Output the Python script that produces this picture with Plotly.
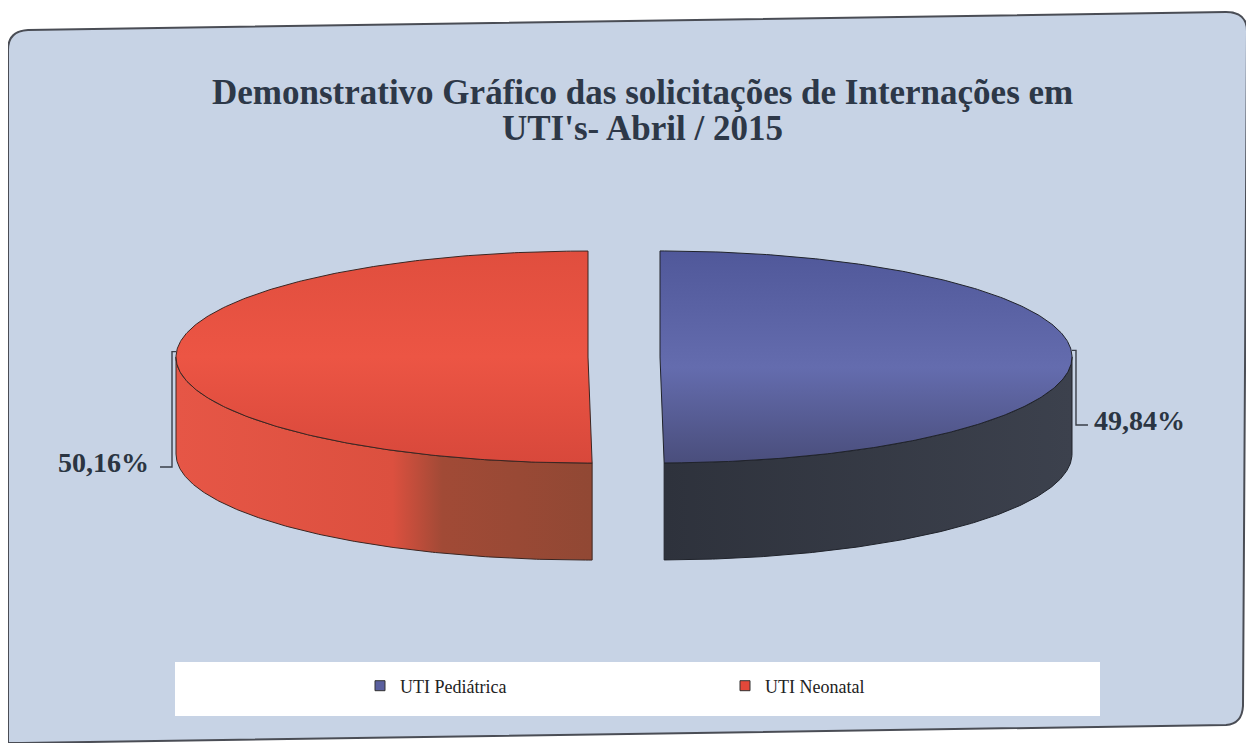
import numpy as np
import plotly.graph_objects as go

# ---------------- data ----------------
categories = ["UTI Pediátrica", "UTI Neonatal"]
values = [49.84, 50.16]
value_labels = ["49,84%", "50,16%"]
title_lines = ["Demonstrativo Gráfico das solicitações de Internações em",
               "UTI's- Abril / 2015"]

# ---------------- styles / layout constants ----------------
W, H = 1254, 743
OFF = 8                    # page body margin compensation
CX, CY = 624, 357          # pie centre (page pixel coords)
RX, RY = 412, 106          # ellipse radii of the tilted pie
DEPTH = 97                 # thickness of the 3-D pie
EXPLODE = 36               # explosion distance

top_scales = [
    [[0, "#4a4e7c"], [0.45, "#646cae"], [1, "#50589a"]],     # Pediátrica top
    [[0, "#d8483b"], [0.5, "#ec5544"], [1, "#e04e3e"]],      # Neonatal top
]
side_scales = [
    [[0, "#2e323c"], [1, "#3c414d"]],
    [[0, "#e65646"], [0.52, "#dc503f"], [0.64, "#a14a36"], [1, "#914834"]],
]
edge_colors = ["#20232b", "#3b2622"]
legend_colors = ["#5a5f9e", "#e2483a"]
label_pos = [(1092, 420, "left"), (151, 462, "right")]
title_y = [92, 128]
TEXT_COLOR = "#2b3542"
SERIF = "Liberation Serif, Times New Roman, serif"


def rim(theta_deg, ox, oy, dz=0.0):
    t = np.radians(theta_deg)
    return CX + ox + RX * np.sin(t), CY + oy - RY * np.cos(t) + dz


def paper_x(p):
    return (p - OFF) / W


def paper_y(p):
    return 1 - (p - OFF) / H


fig = go.Figure()

total = float(sum(values))
start = 0.0
for i, (cat, v) in enumerate(zip(categories, values)):
    sweep = v / total * 360.0
    end = start + sweep
    mid = (start + end) / 2.0
    ox = EXPLODE * np.sin(np.radians(mid))
    oy = -EXPLODE * (RY / RX) * np.cos(np.radians(mid))

    # visible front side wall
    a, b = max(start, 90.0), min(end, 270.0)
    if a < b:
        ts = np.linspace(a, b, 200)
        xt, yt = rim(ts, ox, oy)
        xb, yb = rim(ts[::-1], ox, oy, DEPTH)
        xs = np.concatenate([xt, xb, xt[:1]])
        ys = np.concatenate([yt, yb, yt[:1]])
        fig.add_trace(go.Scatter(
            x=xs, y=ys, mode="lines", fill="toself",
            fillgradient=dict(type="horizontal", colorscale=side_scales[i]),
            line=dict(color=edge_colors[i], width=1),
            hoverinfo="skip", showlegend=False))

    # top face
    ts = np.linspace(start, end, 300)
    xr, yr = rim(ts, ox, oy)
    xs = np.concatenate([[CX + ox], xr, [CX + ox]])
    ys = np.concatenate([[CY + oy], yr, [CY + oy]])
    fig.add_trace(go.Scatter(
        x=xs, y=ys, mode="lines", fill="toself",
        fillgradient=dict(type="vertical", colorscale=top_scales[i]),
        line=dict(color=edge_colors[i], width=1),
        hoverinfo="skip", showlegend=False))

    # leader line + data label
    ax, ay = rim(mid, ox, oy)
    sgn = 1 if np.sin(np.radians(mid)) > 0 else -1
    lx, ly, anchor = label_pos[i]
    fig.add_trace(go.Scatter(
        x=[ax, ax + 4 * sgn, ax + 4 * sgn, ax + 16 * sgn],
        y=[ay - 6, ay - 6, ly + 5, ly + 5],
        mode="lines", line=dict(color="#3a3f48", width=1.4),
        hoverinfo="skip", showlegend=False))
    fig.add_annotation(x=lx, y=ly, text=f"<b>{value_labels[i]}</b>",
                       showarrow=False, xanchor=anchor, yanchor="middle",
                       font=dict(family=SERIF, size=28, color=TEXT_COLOR))
    start = end

# title lines
for t, ty in zip(title_lines, title_y):
    fig.add_annotation(x=642, y=ty, text=f"<b>{t}</b>", showarrow=False,
                       xanchor="center", yanchor="middle",
                       font=dict(family=SERIF, size=35, color="#2d3848"))

# legend-only entries
for i, cat in enumerate(categories):
    fig.add_trace(go.Scatter(
        x=[None], y=[None], mode="markers", name=cat,
        marker=dict(symbol="square", size=10, color=legend_colors[i],
                    line=dict(color="#333333", width=1))))

# background frame (rounded, slightly skewed like the scan)
frame_path = ("M 8,50 Q 8,31 28,30 L 1226,12 Q 1247,12 1247,31 "
              "L 1243,706 Q 1242,724 1226,725 L 22,743 L 8,743 Z")
fig.add_shape(type="path", path=frame_path, xref="x", yref="y",
              fillcolor="#c7d3e5", line=dict(color="#4a4d55", width=2),
              layer="below")
fig.add_shape(type="rect", x0=175, x1=1100, y0=662, y1=716, xref="x", yref="y",
              fillcolor="#ffffff", line=dict(width=0), layer="below")

fig.update_layout(
    width=W, height=H,
    margin=dict(l=0, r=0, t=0, b=0),
    paper_bgcolor="#ffffff", plot_bgcolor="rgba(0,0,0,0)",
    xaxis=dict(range=[OFF, W + OFF], visible=False, fixedrange=True),
    yaxis=dict(range=[H + OFF, OFF], visible=False, fixedrange=True),
    showlegend=True,
    legend=dict(orientation="h", x=paper_x(380 - 20), xanchor="left",
                y=paper_y(686), yanchor="middle", bgcolor="rgba(0,0,0,0)",
                entrywidth=320, entrywidthmode="pixels",
                font=dict(family=SERIF, size=18, color="#222222")),
)

fig.write_html("out.html")
